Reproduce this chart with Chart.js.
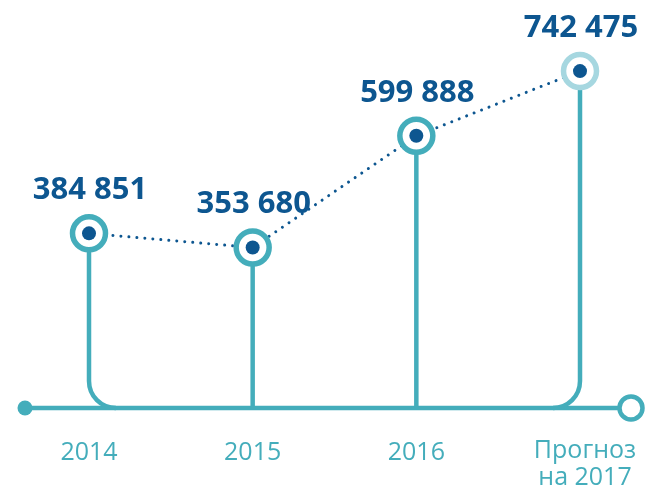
<!DOCTYPE html>
<html>
<head>
<meta charset="utf-8">
<script src="https://cdn.jsdelivr.net/npm/chart.js@4/dist/chart.umd.min.js"></script>
<style>
  html, body { margin: 0; padding: 0; background: #fff; }
  #wrap { width: 645px; height: 490px; position: relative; }
</style>
</head>
<body>
<div id="wrap"><canvas id="lineChart"></canvas></div>
<script>
var years = ["2014", "2015", "2016", ["Прогноз", "на 2017"]];
var values = [384851, 353680, 599888, 742475];
var ringColors = ["#44adbb", "#44adbb", "#44adbb", "#a6d7e0"];

var teal = "#44adbb";
var darkBlue = "#0d5690";

function formatValue(v) {
  return String(v).replace(/\B(?=(\d{3})+(?!\d))/g, " ");
}

// baseline, stems and end markers under the points
var stemsPlugin = {
  id: "stems",
  beforeDatasetsDraw: function(chart) {
    var ctx = chart.ctx;
    var meta = chart.getDatasetMeta(1);
    var base = chart.scales.y.getPixelForValue(0);
    var R = 27;
    var ringR = 18;
    ctx.save();
    ctx.strokeStyle = teal;
    ctx.lineWidth = 4.5;
    ctx.lineCap = "butt";

    // baseline
    ctx.beginPath();
    ctx.moveTo(25, base);
    ctx.lineTo(618, base);
    ctx.stroke();

    meta.data.forEach(function(pt, i) {
      ctx.beginPath();
      ctx.moveTo(pt.x, pt.y + ringR);
      if (i === 0) {
        ctx.lineTo(pt.x, base - R);
        ctx.arc(pt.x + R, base - R, R, Math.PI, Math.PI / 2, true);
      } else if (i === meta.data.length - 1) {
        ctx.lineTo(pt.x, base - R);
        ctx.arc(pt.x - R, base - R, R, 0, Math.PI / 2, false);
      } else {
        ctx.lineTo(pt.x, base);
      }
      ctx.stroke();
    });

    // left dot
    ctx.fillStyle = teal;
    ctx.beginPath();
    ctx.arc(25, base, 7.5, 0, Math.PI * 2);
    ctx.fill();

    // right open circle
    ctx.fillStyle = "#fff";
    ctx.lineWidth = 4.5;
    ctx.beginPath();
    ctx.arc(631, base, 11.5, 0, Math.PI * 2);
    ctx.fill();
    ctx.stroke();
    ctx.restore();
  },
  afterDatasetsDraw: function(chart) {
    var ctx = chart.ctx;
    var meta = chart.getDatasetMeta(1);
    ctx.save();
    ctx.textAlign = "center";
    ctx.textBaseline = "middle";
    meta.data.forEach(function(pt, i) {
      ctx.fillStyle = darkBlue;
      ctx.font = "bold 31px 'Open Sans'";
      ctx.fillText(formatValue(values[i]), pt.x + 1, pt.y - 43);

      ctx.fillStyle = teal;
      ctx.font = "25px 'Open Sans'";
      var lab = years[i];
      if (Array.isArray(lab)) {
        ctx.fillText(lab[0], pt.x + 5, 451);
        ctx.fillText(lab[1], pt.x + 5, 478);
      } else {
        ctx.fillText(lab, pt.x, 453);
      }
    });
    ctx.restore();
  }
};

var ctx = document.getElementById("lineChart").getContext("2d");
var lineChart = new Chart(ctx, {
  type: "line",
  data: {
    labels: years,
    datasets: [{
      data: values,
      showLine: false,
      pointRadius: 7,
      pointBackgroundColor: darkBlue,
      pointBorderWidth: 0,
      clip: false,
      order: 0
    }, {
      data: values,
      borderColor: darkBlue,
      borderWidth: 3,
      borderDash: [0.01, 8],
      borderCapStyle: "round",
      pointRadius: 16.5,
      pointBorderWidth: 5.5,
      pointBorderColor: ringColors,
      pointBackgroundColor: "#fff",
      clip: false,
      order: 1
    }]
  },
  options: {
    responsive: true,
    maintainAspectRatio: false,
    animation: false,
    layout: { padding: { left: 89, right: 65, top: 45, bottom: 82 } },
    plugins: { legend: { display: false }, tooltip: { enabled: false } },
    scales: {
      x: { display: false, offset: false },
      y: { display: false, min: 0, max: 800000 }
    }
  },
  plugins: [stemsPlugin]
});
</script>
</body>
</html>
